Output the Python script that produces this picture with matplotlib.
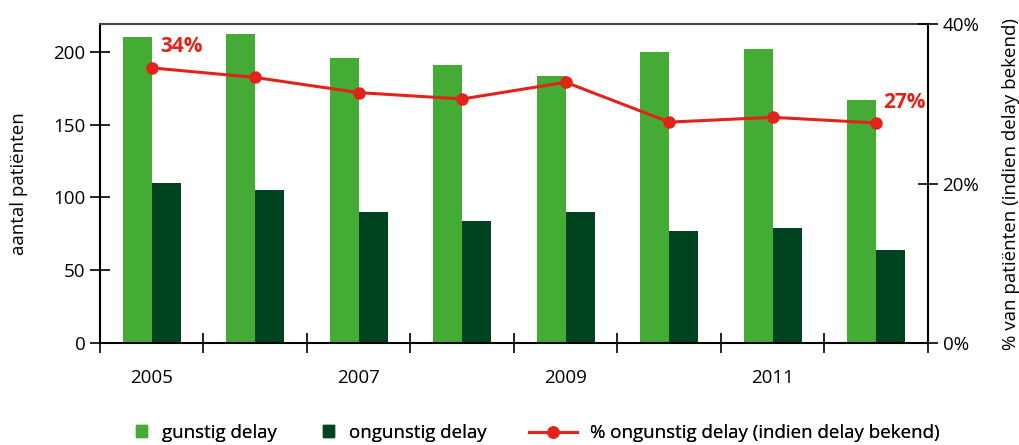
import matplotlib
matplotlib.use('Agg')
import matplotlib.pyplot as plt
from matplotlib.lines import Line2D
from matplotlib.patches import Patch
import numpy as np

years = ['2005', '2006', '2007', '2008', '2009', '2010', '2011', '2012']
gunstig = [210, 212, 196, 191, 183, 200, 202, 167]
ongunstig = [110, 105, 90, 84, 90, 77, 79, 64]
pct_ongunstig = [34.5, 33.3, 31.4, 30.6, 32.7, 27.7, 28.3, 27.6]

plt.rcParams['font.family'] = ['Open Sans', 'DejaVu Sans']

GREEN = '#44ab34'
DARK = '#00441f'
RED = '#e2231a'
FS = 13.5


def add_legend_item(fig, handle, label, xpos, handlelength, textpad):
    leg = fig.legend([handle], [label], loc='center left',
                     bbox_to_anchor=(xpos / 1019, 1 - 433 / 445),
                     frameon=False, fontsize=FS, borderpad=0, borderaxespad=0,
                     handlelength=handlelength, handleheight=0.6,
                     handletextpad=textpad, numpoints=1)
    fig.add_artist(leg)


def main():
    fig = plt.figure(figsize=(10.19, 4.45), dpi=100)
    ax = fig.add_axes([0.0981, 0.2292, 0.8126, 0.7168])
    x = np.arange(len(years))
    w = 0.28

    ax.bar(x - w / 2, gunstig, w, color=GREEN, zorder=2)
    ax.bar(x + w / 2, ongunstig, w, color=DARK, zorder=2)

    ax.set_xlim(-0.5, len(years) - 0.5)
    ax.set_ylim(0, 219)
    ax.set_yticks([0, 50, 100, 150, 200])
    ax.set_ylabel('aantal patiënten', fontsize=FS, labelpad=18)

    ax.set_xticks(np.arange(-0.5, len(years)), minor=False)
    ax.set_xticklabels([])
    ax.set_xticks(x[::2], minor=True)
    ax.set_xticklabels(years[::2], minor=True)
    ax.tick_params(axis='x', which='major', direction='inout', length=14, width=1.2)
    ax.tick_params(axis='x', which='minor', length=0, pad=19, labelsize=FS)
    ax.tick_params(axis='y', direction='inout', length=14, width=1.2, labelsize=FS)

    ax.spines['top'].set_color('#444444')
    ax.spines['top'].set_linewidth(1.5)
    ax.spines['bottom'].set_linewidth(1.5)
    ax.spines['left'].set_linewidth(1.5)
    ax.spines['right'].set_visible(False)

    ax2 = ax.twinx()
    ax2.plot(x, pct_ongunstig, color=RED, lw=2.2, marker='o', ms=8, zorder=3)
    ax2.set_ylim(0, 40)
    ax2.set_yticks([0, 20, 40])
    ax2.set_yticklabels(['0%', '20%', '40%'])
    ax2.tick_params(axis='y', direction='inout', length=14, width=1.2, labelsize=FS)
    ax2.spines['right'].set_linewidth(1.5)
    ax2.spines['top'].set_visible(False)
    ax2.spines['left'].set_visible(False)
    ax2.spines['bottom'].set_visible(False)
    ax2.set_ylabel('% van patiënten (indien delay bekend)', fontsize=FS, labelpad=16)

    ax2.annotate('34%', (x[0], pct_ongunstig[0]), xytext=(6, 8),
                 textcoords='offset points', color=RED, fontsize=15,
                 fontweight='bold', ha='left', va='bottom')
    ax2.annotate('27%', (x[-1], pct_ongunstig[-1]), xytext=(5, 7),
                 textcoords='offset points', color=RED, fontsize=15,
                 fontweight='bold', ha='left', va='bottom')

    add_legend_item(fig, Patch(color=GREEN), 'gunstig delay', 136, 0.6, 0.8)
    add_legend_item(fig, Patch(color=DARK), 'ongunstig delay', 323, 0.6, 0.8)
    add_legend_item(fig, Line2D([], [], color=RED, lw=2.2, marker='o', ms=8),
                    '% ongunstig delay (indien delay bekend)', 529, 2.55, 0.7)

    fig.savefig('out.png', dpi=100)


if __name__ == '__main__':
    main()
